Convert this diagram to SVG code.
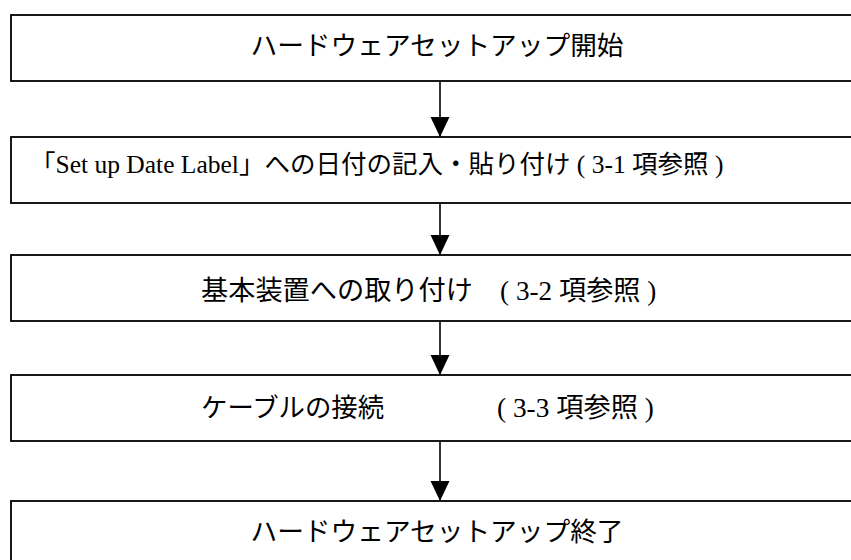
<svg xmlns="http://www.w3.org/2000/svg" width="851" height="560" viewBox="0 0 851 560">
<defs>
<style>
.box{fill:#fff;stroke:#000;stroke-width:1.8}
.t{font-family:"Noto Sans CJK JP","Noto Sans",sans-serif;font-size:26.7px;fill:#000}
.t2{font-size:25.5px}
.s{font-family:"Liberation Serif",serif}
.conn line{stroke:#000;stroke-width:1.6}
</style>
<marker id="ah" markerUnits="userSpaceOnUse" markerWidth="21" markerHeight="20" refX="20" refY="10" orient="auto" viewBox="0 0 21 20">
<path d="M0,0.5 L20,10 L0,19.5 Z" fill="#000"/>
</marker>
</defs>
<rect width="851" height="560" fill="#fff"/>
<g id="n1"><rect class="box" x="11" y="15" width="870" height="66"/>
<text class="t" x="437" y="55" text-anchor="middle">ハードウェアセットアップ開始</text></g>
<g id="n2"><rect class="box" x="11" y="137" width="870" height="66"/>
<text class="t t2" x="30" y="173">「<tspan class="s">Set up Date Label</tspan>」への日付の記入・貼り付け<tspan class="s"> ( 3-1 </tspan>項参照<tspan class="s"> )</tspan></text></g>
<g id="n3"><rect class="box" x="11" y="255" width="870" height="66"/>
<text class="t" x="201" y="300" style="font-size:27.2px">基本装置への取り付け　<tspan class="s">( 3-2 </tspan>項参照<tspan class="s"> )</tspan></text></g>
<g id="n4"><rect class="box" x="11" y="375" width="870" height="66"/>
<text class="t" x="201" y="417" style="font-size:26.4px">ケーブルの接続</text>
<text class="t" x="497" y="417" style="font-size:27.3px"><tspan class="s">( 3-3 </tspan>項参照<tspan class="s"> )</tspan></text></g>
<g id="n5"><rect class="box" x="11" y="501" width="870" height="66"/>
<text class="t" x="437" y="541" text-anchor="middle">ハードウェアセットアップ終了</text></g>
<g id="connectors" class="conn">
<line x1="440" y1="81" x2="440" y2="137" marker-end="url(#ah)"/>
<line x1="440" y1="203" x2="440" y2="255" marker-end="url(#ah)"/>
<line x1="440" y1="321" x2="440" y2="375" marker-end="url(#ah)"/>
<line x1="440" y1="441" x2="440" y2="501" marker-end="url(#ah)"/>
</g>
</svg>
